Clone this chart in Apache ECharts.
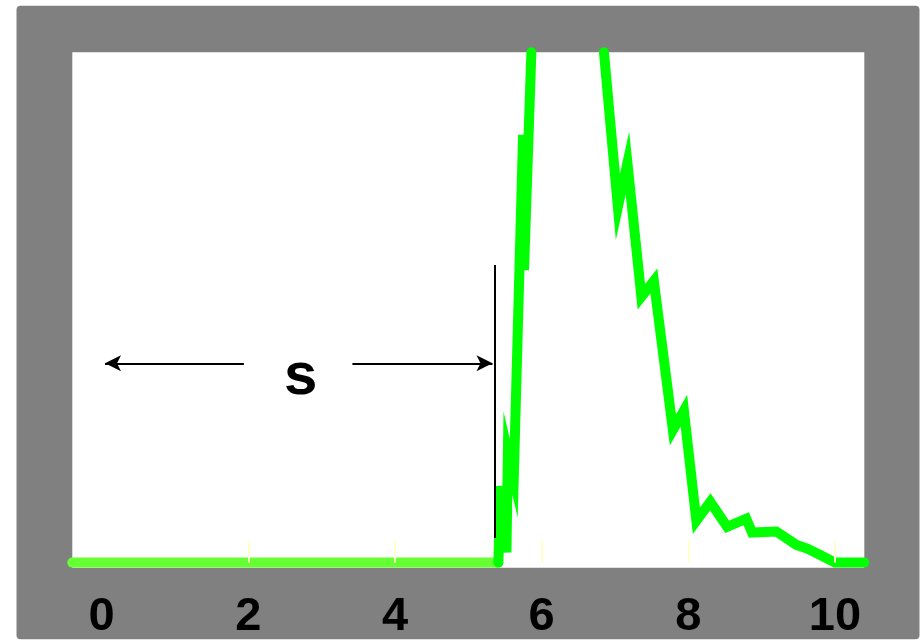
<!DOCTYPE html>
<html>
<head>
<meta charset="utf-8">
<script src="https://cdn.jsdelivr.net/npm/echarts@6/dist/echarts.min.js"></script>
<style>
  html, body { margin: 0; padding: 0; background: #ffffff; }
  #chart { width: 924px; height: 643px; }
</style>
</head>
<body>
<div id="chart"></div>
<script>
// ---- data ----
const xLabels = [0, 2, 4, 6, 8, 10];
const xTickMarks = [2, 4, 6, 8, 10];

// flat baseline (light green)
const baseX = [-0.4, 5.41];
const baseY = [0, 0];

// pulse (bright green); '-' marks the part above the frame
const pulseX = [5.41, 5.44, 5.52, 5.54, 5.62, 5.747, 5.76, 5.86, 6.35, 6.85, 7.04, 7.17, 7.36, 7.53, 7.79, 7.94, 8.11, 8.30, 8.53, 8.79, 8.87, 9.20, 9.47, 9.63, 9.84, 10.0, 10.4];
const pulseY = [0, 15.0, 2.0, 21.5, 16.5, 83.8, 57.3, 100, '-', 100, 69.7, 78.3, 52.1, 55.2, 26.0, 29.8, 8.2, 11.9, 7.0, 8.6, 5.9, 6.1, 3.5, 2.7, 1.2, 0, 0];

// annotation: threshold marker and the "s" span
const sLineX = 5.365;
const sLineY = [4.8, 58.3];
const sArrowY = 39.05;
const sArrowLeft = [1.94, 0.046];
const sArrowRight = [3.42, 5.33];
const sLabel = 's';
const sLabelPos = [2.715, 36.2];

const zip = (xs, ys) => xs.map((x, i) => [x, ys[i]]);

const chart = echarts.init(document.getElementById('chart'), null, { renderer: 'canvas' });
chart.setOption({
  animation: false,
  backgroundColor: '#ffffff',
  graphic: [{
    type: 'rect',
    z: -10,
    silent: true,
    shape: { x: 16.5, y: 5.7, width: 903, height: 633.5, r: 4 },
    style: { fill: '#808080' }
  }],
  grid: {
    left: 72.3, top: 52.3, right: 59.7, bottom: 75.3,
    show: true, backgroundColor: '#ffffff', borderWidth: 0
  },
  xAxis: {
    type: 'value',
    min: -0.4, max: 10.4,
    z: 5,
    axisLine: { show: false },
    splitLine: { show: false },
    axisTick: {
      show: true, inside: true, length: 22,
      customValues: xTickMarks,
      lineStyle: { color: '#ffffcc', width: 2 }
    },
    axisLabel: {
      show: true,
      customValues: xLabels,
      margin: 26,
      color: '#000000',
      fontSize: 47,
      fontWeight: 'bold',
      fontFamily: 'Liberation Sans, Arial, sans-serif'
    }
  },
  yAxis: {
    type: 'value',
    min: -1, max: 100,
    show: false,
    splitLine: { show: false }
  },
  series: [
    {
      type: 'line',
      data: zip(baseX, baseY),
      symbol: 'none',
      clip: false,
      z: 2,
      lineStyle: { color: '#66ff33', width: 10, cap: 'round', join: 'miter' }
    },
    {
      type: 'line',
      data: zip(pulseX, pulseY),
      symbol: 'none',
      clip: false,
      connectNulls: false,
      z: 3,
      lineStyle: { color: '#00ff00', width: 10, cap: 'round', join: 'miter', miterLimit: 10 },
      markLine: {
        silent: true,
        animation: false,
        symbolSize: [12, 16],
        label: { show: false },
        emphasis: { disabled: true },
        lineStyle: { color: '#000000', width: 2, type: 'solid' },
        data: [
          [{ coord: [sLineX, sLineY[0]], symbol: 'none' }, { coord: [sLineX, sLineY[1]], symbol: 'none' }],
          [{ coord: [sArrowLeft[0], sArrowY], symbol: 'none' }, { coord: [sArrowLeft[1], sArrowY], symbol: 'arrow' }],
          [{ coord: [sArrowRight[0], sArrowY], symbol: 'none' }, { coord: [sArrowRight[1], sArrowY], symbol: 'arrow' }]
        ]
      },
      markPoint: {
        silent: true,
        symbol: 'circle',
        symbolSize: 1,
        itemStyle: { color: 'rgba(0,0,0,0)' },
        label: {
          show: true,
          position: 'inside',
          formatter: sLabel,
          color: '#000000',
          fontSize: 60,
          fontWeight: 'bold',
          fontFamily: 'Liberation Sans, Arial, sans-serif'
        },
        data: [{ coord: sLabelPos }]
      }
    }
  ]
});
</script>
</body>
</html>
